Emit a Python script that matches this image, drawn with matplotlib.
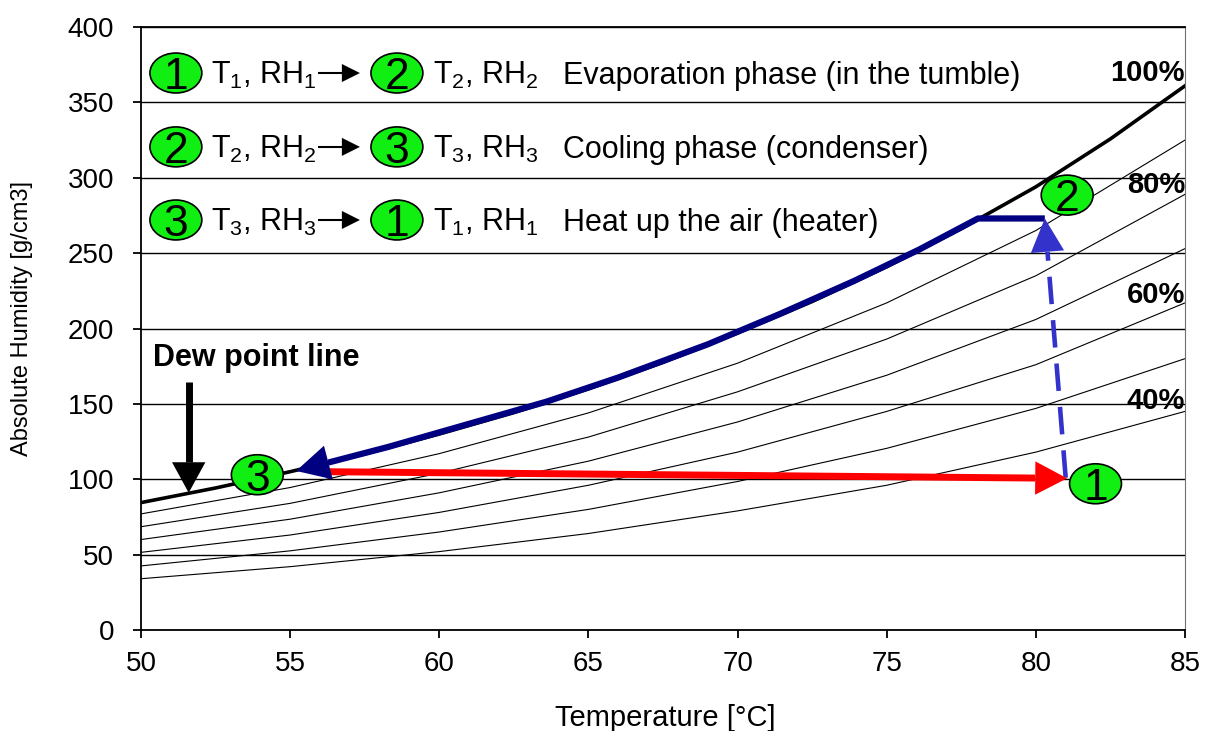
import numpy as np
import matplotlib
matplotlib.use('Agg')
import matplotlib.pyplot as plt
from matplotlib.patches import Ellipse

# saturation line (100 %), every 2.5 degC
SAT_T = [50, 52.5, 55, 57.5, 60, 62.5, 65, 67.5, 70, 72.5, 75, 77.5, 80, 82.5, 85]
SAT_AH = [84.5, 94.2, 105, 116.8, 130, 144.2, 160, 177.5, 197, 217.9, 241, 266.2,
          294, 325.8, 361]

# iso-RH curves, read every 5 degC
TEMP = [50, 55, 60, 65, 70, 75, 80, 85]
AH_90 = [77, 94.5, 117, 144, 177, 217, 265, 325]
AH_80 = [68.5, 84, 104, 128, 158, 193, 235, 289]
AH_70 = [60, 73.5, 91, 112, 138, 169, 206, 253]
AH_60 = [51.5, 63, 78, 96, 118, 145, 176, 217]
AH_50 = [42.5, 52.5, 65, 80, 98.5, 120.5, 147, 180]
AH_40 = [34, 42, 52, 64, 79, 96, 118, 145]

# process path of the dryer
EVAP_T = [81.0, 80.3]                       # 1 -> 2
EVAP_AH = [101, 273]
COOL_T = [80.3, 78.06, 76.1, 73.9, 71.4, 69.0, 66.0, 63.6, 58.3, 55.2]   # 2 -> 3
COOL_AH = [273, 273, 252.5, 231.5, 209.5, 189.5, 167.5, 151.5, 121.5, 105.5]
HEAT_T = [56.2, 81.05]                      # 3 -> 1
HEAT_AH = [105, 100.6]

STATE_NAMES = ['1', '2', '3']
STATE_T = [82.0, 81.05, 53.9]
STATE_AH = [97, 288.5, 103]

RH_LABELS = ['100%', '80%', '60%', '40%']
RH_LABEL_Y = [369.5, 295, 222, 152]

LEG_FROM = ['1', '2', '3']
LEG_TO = ['2', '3', '1']
PHASES = ['Evaporation phase (in the tumble)', 'Cooling phase (condenser)',
          'Heat up the air (heater)']
LEG_Y = [369.5, 320.5, 272]

plt.rcParams['font.family'] = ['Liberation Sans', 'DejaVu Sans']
plt.rcParams['mathtext.fontset'] = 'custom'
plt.rcParams['mathtext.rm'] = 'Liberation Sans'

GREEN = '#11EE11'

fig = plt.figure(figsize=(12.05, 7.31), dpi=100)
ax = fig.add_axes([0.117, 0.1382, 0.8664, 0.8248])
ax.set_xlim(50, 85)
ax.set_ylim(0, 400)


def head(tip, tail, color, length, half):
    ax.annotate('', xy=tip, xytext=tail,
                arrowprops=dict(arrowstyle=f'-|>,head_length={length},head_width={half}',
                                color=color, lw=0, shrinkA=0, shrinkB=0,
                                mutation_scale=1), zorder=6)


def arrow_line(xs, ys, color, lw, length, half, **kw):
    # polyline that ends at an arrow tip; shaft stops at the head base
    tr = ax.transData
    tip = tr.transform((xs[-1], ys[-1]))
    prev = tr.transform((xs[-2], ys[-2]))
    d = (tip - prev) / np.hypot(*(tip - prev))
    bx, by = tr.inverted().transform(tip - d * length * fig.dpi / 72)
    ax.plot(list(xs[:-1]) + [bx], list(ys[:-1]) + [by], color=color, lw=lw,
            solid_capstyle='butt', zorder=5, **kw)
    head((xs[-1], ys[-1]), (xs[-2], ys[-2]), color, length, half)


def bubble(x, y, s):
    ax.add_patch(Ellipse((x, y), 1.74, 26.5, facecolor=GREEN, edgecolor='black',
                         lw=1.2, zorder=7))
    ax.text(x, y, s, fontsize=32, ha='center', va='center_baseline', zorder=8)


ax.set_yticks(range(0, 401, 50))
ax.set_xticks(range(50, 86, 5))
ax.grid(axis='y', color='black', lw=1.0)
ax.set_axisbelow(True)
ax.tick_params(labelsize=20, length=6, width=1.3, direction='out')
ax.tick_params(axis='y', pad=13.5)
ax.tick_params(axis='x', pad=9)
for s in ['left', 'bottom', 'top']:
    ax.spines[s].set_linewidth(1.3)
ax.spines['right'].set_color('#707070')

for ah in [AH_90, AH_80, AH_70, AH_60, AH_50, AH_40]:
    ax.plot(TEMP, ah, color='black', lw=0.8, zorder=2)
ax.plot(SAT_T, SAT_AH, color='black', lw=2.6, zorder=3)

arrow_line(HEAT_T, HEAT_AH, '#FF0000', 5.0, 23, 12)
arrow_line(COOL_T, COOL_AH, '#000080', 4.5, 24, 12.5)
arrow_line(EVAP_T, EVAP_AH, '#3333CC', 3.3, 24, 12, linestyle=(0, (6, 3.5)))

for name, t, ah in zip(STATE_NAMES, STATE_T, STATE_AH):
    bubble(t, ah, name)

# dew point marker
ax.text(50.4, 175, 'Dew point line', fontsize=22, fontweight='bold', va='baseline')
arrow_line([51.6, 51.6], [164.7, 91], 'black', 5, 22, 12)

for lab, y in zip(RH_LABELS, RH_LABEL_Y):
    ax.text(85, y, lab, fontsize=21, fontweight='bold', ha='right',
            va='center', zorder=9)

# legend rows
for a, b, txt, y in zip(LEG_FROM, LEG_TO, PHASES, LEG_Y):
    yb = y - 7.5
    bubble(51.17, y, a)
    ax.text(52.35, yb, f'T$_{a}$, RH$_{a}$', fontsize=22, va='baseline')
    arrow_line([55.93, 57.34], [y, y], 'black', 1.5, 13, 6.5)
    bubble(58.58, y, b)
    ax.text(59.79, yb, f'T$_{b}$, RH$_{b}$', fontsize=22, va='baseline')
    ax.text(64.15, yb, txt, fontsize=22, va='baseline')

ax.set_ylabel('Absolute Humidity [g/cm3]', fontsize=17)
ax.yaxis.set_label_coords(-0.103, 0.517)
ax.set_xlabel('Temperature [°C]', fontsize=21)
ax.xaxis.set_label_coords(0.502, -0.122)

fig.savefig('out.png', dpi=100)
